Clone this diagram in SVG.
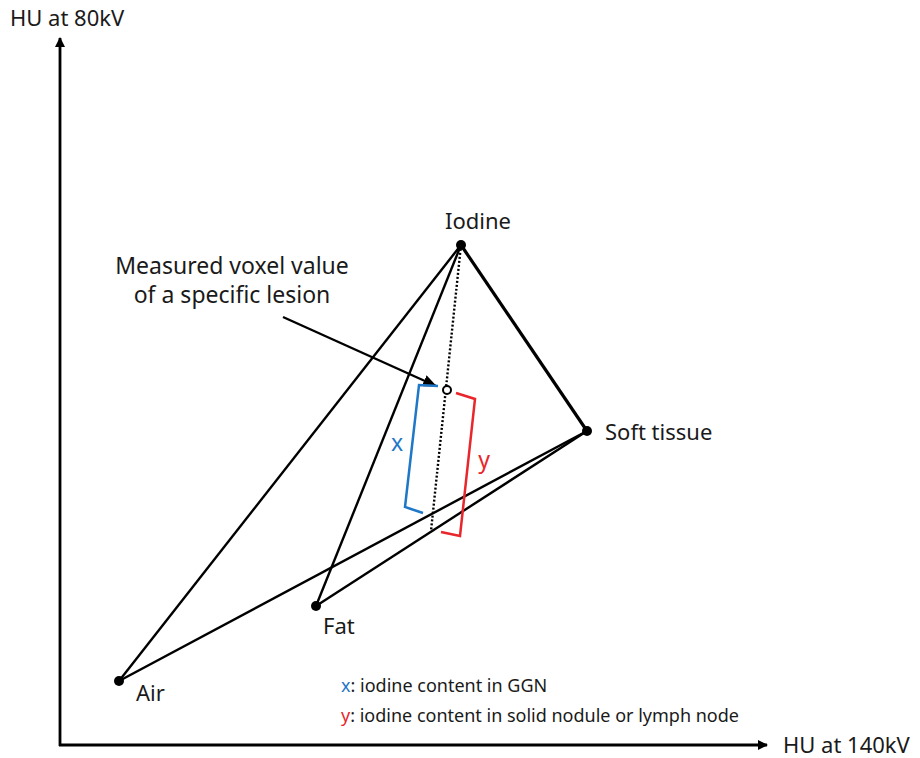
<svg xmlns="http://www.w3.org/2000/svg" width="920" height="758" viewBox="0 0 920 758">
<style>
text{font-family:"Noto Sans","Open Sans","Liberation Sans",sans-serif;fill:#1a1a1a}
.lbl{font-size:22px}
.leg{font-size:18px}
.ln{stroke:#000;stroke-width:2.4;fill:none}
.dot{fill:#000}
</style>
<defs>
<marker id="ah" markerWidth="10" markerHeight="10" refX="9" refY="5" orient="auto" markerUnits="userSpaceOnUse">
<path d="M0,0 L10,5 L0,10 Z" fill="#000"/>
</marker>
<marker id="ah2" markerWidth="14" markerHeight="12" refX="13" refY="6" orient="auto" markerUnits="userSpaceOnUse">
<path d="M0,0 L14,6 L0,12 Z" fill="#000"/>
</marker>
</defs>
<g id="axes">
<line x1="60" y1="746" x2="60" y2="38" stroke="#000" stroke-width="2.8" marker-end="url(#ah)"/>
<line x1="59" y1="745" x2="767" y2="745" stroke="#000" stroke-width="2.8" marker-end="url(#ah)"/>
<text x="10" y="26" class="lbl">HU at 80kV</text>
<text x="783" y="753" class="lbl">HU at 140kV</text>
</g>
<g id="connectors">
<line class="ln" x1="119" y1="681" x2="461" y2="245"/>
<line class="ln" x1="119" y1="681" x2="587" y2="431"/>
<line class="ln" x1="316" y1="606" x2="461" y2="245"/>
<line class="ln" x1="316" y1="606" x2="587" y2="431"/>
<line x1="461" y1="245" x2="587" y2="431" stroke="#000" stroke-width="3.2"/>
<line x1="461" y1="245" x2="431" y2="531" stroke="#000" stroke-width="2.4" stroke-dasharray="2,2"/>
<line x1="283" y1="317" x2="436" y2="386" stroke="#000" stroke-width="2.4" marker-end="url(#ah2)"/>
</g>
<g id="iodine">
<circle class="dot" cx="461" cy="245" r="5"/>
<text x="478" y="229" class="lbl" text-anchor="middle">Iodine</text>
</g>
<g id="soft-tissue">
<circle class="dot" cx="587" cy="431" r="5"/>
<text x="605" y="440" class="lbl">Soft tissue</text>
</g>
<g id="fat">
<circle class="dot" cx="316" cy="606" r="5"/>
<text x="323" y="634" class="lbl">Fat</text>
</g>
<g id="air">
<circle class="dot" cx="119" cy="681" r="5"/>
<text x="136" y="701" class="lbl">Air</text>
</g>
<g id="measured">
<circle cx="447" cy="390" r="4" fill="#fff" stroke="#000" stroke-width="2"/>
<text x="232" y="274" font-size="23" text-anchor="middle">Measured voxel value</text>
<text x="232" y="303" font-size="23" text-anchor="middle">of a specific lesion</text>
</g>
<g id="bracket-x">
<polyline points="438,386 419,385 405,507 423,513" fill="none" stroke="#1f77c8" stroke-width="2.5"/>
<text x="397" y="451" font-size="23" style="fill:#1f77c8" text-anchor="middle">x</text>
</g>
<g id="bracket-y">
<polyline points="456,393 475,399 460,536 441,532" fill="none" stroke="#e8262b" stroke-width="2.5"/>
<text x="484" y="468" font-size="23" style="fill:#e8262b" text-anchor="middle">y</text>
</g>
<g id="legend">
<text x="341" y="692" class="leg"><tspan style="fill:#1f77c8">x</tspan>: iodine content in GGN</text>
<text x="341" y="722" class="leg"><tspan style="fill:#e8262b">y</tspan>: iodine content in solid nodule or lymph node</text>
</g>
</svg>
